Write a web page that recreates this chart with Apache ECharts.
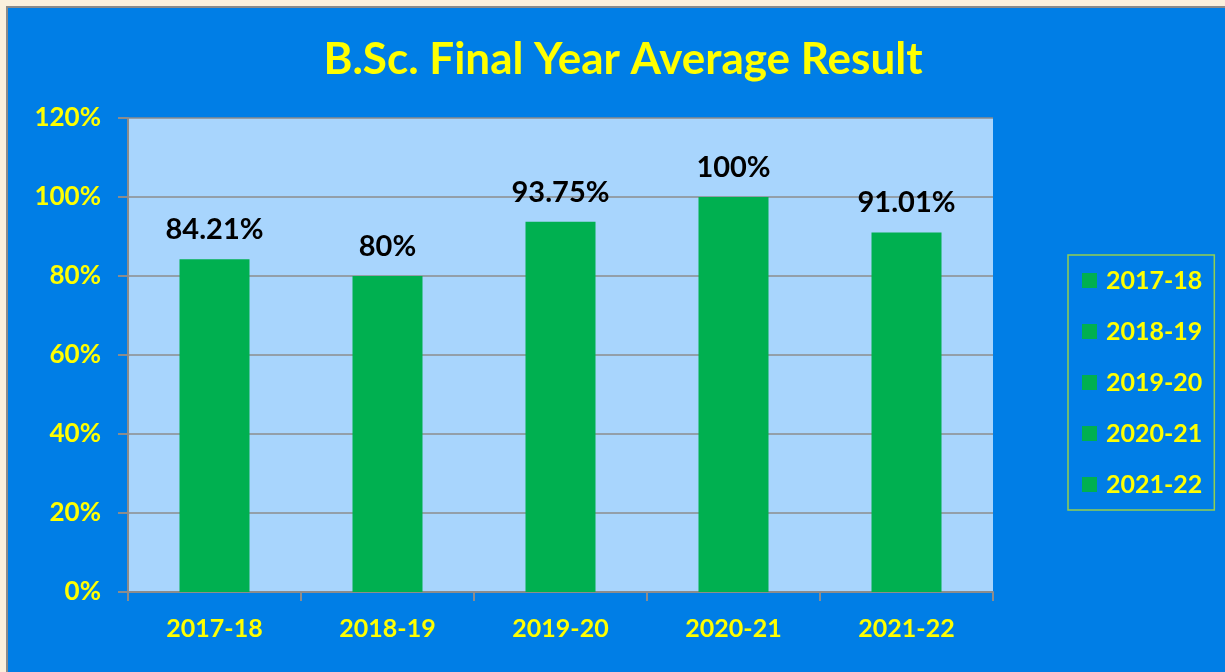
<!DOCTYPE html>
<html>
<head>
<meta charset="utf-8">
<script src="https://cdn.jsdelivr.net/npm/echarts@6/dist/echarts.min.js"></script>
<style>
  html, body { margin: 0; padding: 0; width: 1225px; height: 672px; overflow: hidden; background: #FAF0DD; }
  #frame { position: absolute; left: 6px; top: 6px; width: 1219px; height: 666px; background: #007EE6; border-left: 2px solid #8A8A8A; border-top: 2px solid #8A8A8A; box-sizing: border-box; }
  #chart { position: absolute; left: 0; top: 0; width: 1225px; height: 672px; }
</style>
</head>
<body>
<div id="frame"></div>
<div id="chart"></div>
<script>
const categories = ['2017-18', '2018-19', '2019-20', '2020-21', '2021-22'];
const values = [84.21, 80, 93.75, 100, 91.01];
const valueLabels = ['84.21%', '80%', '93.75%', '100%', '91.01%'];
const yTicks = [0, 20, 40, 60, 80, 100, 120];

const FONT = 'Lato, "Open Sans", sans-serif';
const series = categories.map((c, i) => ({
  name: c,
  type: 'bar',
  stack: 'all',
  barWidth: 70,
  itemStyle: { color: '#00B050' },
  label: {
    show: true,
    position: 'top',
    distance: 15,
    color: '#000000',
    fontFamily: FONT,
    fontWeight: 'bold',
    fontSize: 29,
    formatter: () => valueLabels[i]
  },
  data: categories.map((_, j) => (j === i ? values[i] : '-'))
}));

const chart = echarts.init(document.getElementById('chart'), null, { renderer: 'canvas' });
chart.setOption({
  backgroundColor: 'transparent',
  animation: false,
  title: {
    text: 'B.Sc. Final Year Average Result',
    left: 618,
    textAlign: 'center',
    top: 33,
    textStyle: { color: '#FFFF00', fontFamily: FONT, fontWeight: 'bold', fontSize: 44 }
  },
  legend: {
    orient: 'vertical',
    left: 1068,
    top: 255,
    padding: [13, 12, 13, 14],
    itemGap: 26,
    itemWidth: 15,
    itemHeight: 15,
    icon: 'rect',
    borderColor: '#92D050',
    borderWidth: 1.5,
    data: categories,
    textStyle: { color: '#FFFF00', fontFamily: FONT, fontWeight: 'bold', fontSize: 25, padding: [0, 0, 0, 4] }
  },
  grid: {
    left: 128, top: 118, right: 232, bottom: 80,
    show: true, backgroundColor: '#A8D5FD', borderWidth: 0
  },
  xAxis: {
    type: 'category',
    data: categories,
    axisLine: { lineStyle: { color: '#8C8C8C', width: 2 } },
    axisTick: { show: true, alignWithLabel: false, length: 9, lineStyle: { color: '#8C8C8C', width: 2 } },
    axisLabel: { color: '#FFFF00', fontFamily: FONT, fontWeight: 'bold', fontSize: 25, margin: 24 }
  },
  yAxis: {
    type: 'value',
    min: yTicks[0],
    max: yTicks[yTicks.length - 1],
    interval: 20,
    axisLine: { show: true, lineStyle: { color: '#8C8C8C', width: 2 } },
    axisTick: { show: true, length: 10, lineStyle: { color: '#8C8C8C', width: 2 } },
    splitLine: { lineStyle: { color: '#8C8C8C', width: 1.5 } },
    axisLabel: { color: '#FFFF00', fontFamily: FONT, fontWeight: 'bold', fontSize: 26, margin: 27, formatter: '{value}%' }
  },
  series: series
});
</script>
</body>
</html>
